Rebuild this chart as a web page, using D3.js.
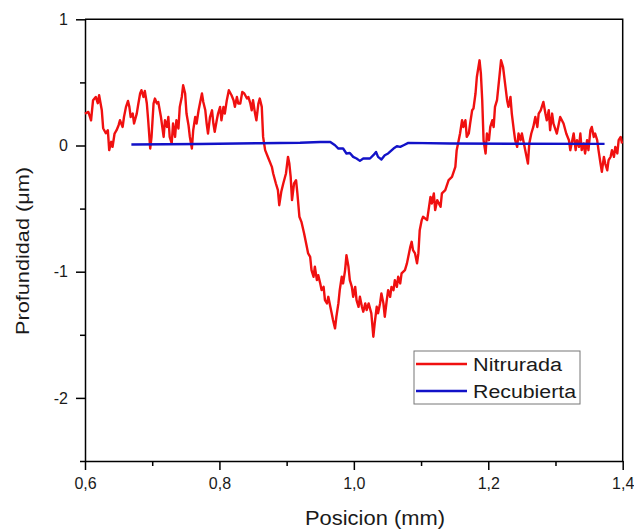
<!DOCTYPE html>
<html>
<head>
<meta charset="utf-8">
<script src="https://cdnjs.cloudflare.com/ajax/libs/d3/7.8.5/d3.min.js"></script>
<style>
  body { margin: 0; background: #fff; }
  svg { font-family: "Liberation Sans", Arial, sans-serif; }
</style>
</head>
<body>
<div id="chart"></div>
<script>
// profile data (x in mm, y in um)
var nitruradaX = [0.600,0.605,0.609,0.612,0.616,0.619,0.621,0.625,0.627,0.631,0.634,0.636,0.639,0.641,0.644,0.647,0.650,0.652,0.656,0.658,
  0.661,0.664,0.666,0.668,0.671,0.673,0.677,0.679,0.682,0.684,0.687,0.689,0.692,0.694,0.697,0.699,0.702,0.704,0.707,0.709,
  0.713,0.717,0.719,0.722,0.724,0.726,0.729,0.731,0.734,0.736,0.739,0.741,0.744,0.746,0.749,0.751,0.754,0.756,0.759,0.761,
  0.764,0.766,0.769,0.771,0.774,0.776,0.779,0.781,0.783,0.786,0.789,0.791,0.793,0.796,0.798,0.801,0.803,0.806,0.808,0.811,
  0.814,0.818,0.821,0.823,0.826,0.828,0.831,0.834,0.837,0.841,0.843,0.846,0.848,0.850,0.853,0.855,0.858,0.860,0.863,0.865,
  0.868,0.873,0.878,0.880,0.884,0.887,0.889,0.892,0.895,0.899,0.902,0.904,0.906,0.908,0.911,0.914,0.916,0.919,0.922,0.926,
  0.930,0.932,0.935,0.937,0.940,0.942,0.945,0.947,0.950,0.952,0.955,0.957,0.960,0.962,0.965,0.967,0.969,0.972,0.974,0.977,
  0.979,0.982,0.984,0.987,0.989,0.992,0.994,0.997,0.999,1.002,1.004,1.007,1.009,1.012,1.014,1.017,1.019,1.022,1.024,1.026,
  1.029,1.031,1.034,1.036,1.039,1.041,1.044,1.046,1.049,1.051,1.054,1.056,1.059,1.061,1.064,1.066,1.069,1.071,1.076,1.079,
  1.081,1.084,1.086,1.088,1.091,1.094,1.096,1.098,1.101,1.103,1.109,1.114,1.116,1.119,1.121,1.124,1.129,1.131,1.136,1.141,
  1.146,1.151,1.153,1.156,1.158,1.161,1.163,1.166,1.168,1.171,1.173,1.176,1.178,1.181,1.183,1.187,1.189,1.191,1.193,1.196,
  1.198,1.201,1.203,1.206,1.208,1.210,1.213,1.216,1.219,1.222,1.225,1.228,1.230,1.233,1.235,1.238,1.240,1.243,1.245,1.248,
  1.250,1.253,1.255,1.259,1.261,1.264,1.267,1.270,1.273,1.275,1.278,1.282,1.285,1.287,1.290,1.292,1.295,1.297,1.302,1.307,
  1.312,1.316,1.320,1.322,1.325,1.327,1.330,1.332,1.335,1.337,1.339,1.342,1.344,1.347,1.349,1.352,1.354,1.357,1.359,1.362,
  1.364,1.367,1.369,1.372,1.374,1.377,1.379,1.382,1.384,1.387,1.389,1.392,1.394,1.397,1.399];
var nitruradaY = [0.253,0.266,0.200,0.359,0.385,0.335,0.398,0.279,0.137,0.097,0.121,-0.037,0.029,-0.011,0.095,0.121,0.161,0.200,0.147,0.226,
  0.306,0.353,0.306,0.226,0.253,0.174,0.253,0.319,0.412,0.438,0.385,0.432,0.333,0.200,-0.024,0.068,0.333,0.372,0.333,0.345,
  0.226,0.068,0.200,0.147,0.226,0.068,0.016,0.174,0.068,0.200,0.135,0.306,0.385,0.477,0.412,0.253,0.161,0.068,-0.024,0.121,
  0.226,0.174,0.279,0.333,0.412,0.345,0.279,0.174,0.095,0.226,0.279,0.174,0.108,0.200,0.253,0.306,0.200,0.306,0.253,0.359,
  0.438,0.398,0.359,0.306,0.385,0.333,0.333,0.424,0.412,0.372,0.385,0.333,0.279,0.359,0.253,0.200,0.333,0.372,0.306,0.068,
  -0.037,-0.103,-0.169,-0.222,-0.301,-0.354,-0.473,-0.367,-0.301,-0.222,-0.090,-0.143,-0.249,-0.433,-0.301,-0.275,-0.380,-0.565,-0.605,-0.697,
  -0.803,-0.855,-0.882,-0.987,-1.040,-0.961,-1.067,-1.027,-1.093,-1.146,-1.120,-1.225,-1.251,-1.199,-1.278,-1.330,-1.383,-1.449,-1.357,-1.251,
  -1.146,-1.040,-1.093,-0.987,-0.869,-0.961,-1.067,-1.120,-1.199,-1.120,-1.225,-1.278,-1.199,-1.278,-1.317,-1.251,-1.304,-1.251,-1.291,-1.330,
  -1.515,-1.409,-1.278,-1.330,-1.251,-1.172,-1.251,-1.357,-1.225,-1.146,-1.199,-1.120,-1.146,-1.067,-1.120,-1.040,-1.093,-1.013,-0.987,-0.934,
  -0.882,-0.803,-0.763,-0.829,-0.855,-0.934,-0.855,-0.671,-0.591,-0.565,-0.591,-0.407,-0.459,-0.380,-0.512,-0.433,-0.486,-0.380,-0.354,-0.275,
  -0.249,-0.169,-0.037,0.042,0.095,0.200,0.147,0.200,0.068,0.095,0.174,0.279,0.293,0.412,0.543,0.675,0.570,0.359,0.042,-0.063,
  0.095,0.042,0.147,0.200,0.147,0.306,0.359,0.517,0.675,0.622,0.491,0.359,0.306,0.385,0.253,0.121,0.042,-0.011,0.095,0.042,
  0.095,0.016,-0.037,-0.143,0.016,0.095,0.147,0.226,0.147,0.253,0.279,0.345,0.253,0.200,0.279,0.121,0.253,0.174,0.095,0.226,
  0.174,0.095,0.042,-0.037,0.042,0.095,-0.037,0.042,-0.011,0.095,-0.037,0.016,-0.063,0.042,-0.037,0.121,0.147,0.068,0.095,0.042,
  -0.037,-0.143,-0.209,-0.090,-0.143,-0.196,-0.116,-0.090,-0.037,-0.090,-0.011,-0.063,0.042,0.068,0.016];

var recubiertaX = [0.669,0.771,0.860,0.920,0.950,0.965,0.972,0.977,0.984,0.989,0.994,0.999,1.004,1.009,1.014,1.024,1.029,1.033,1.036,1.041,
  1.046,1.051,1.059,1.064,1.069,1.074,1.081,1.143,1.247,1.373];
var recubiertaY = [0.008,0.012,0.018,0.022,0.028,0.028,0.002,-0.024,-0.024,-0.063,-0.059,-0.090,-0.103,-0.122,-0.103,-0.103,-0.077,-0.051,-0.090,-0.111,
  -0.077,-0.063,-0.024,-0.006,-0.011,0.002,0.021,0.016,0.014,0.013];

var seriesNames = ["Nitrurada", "Recubierta"];
var seriesColors = ["#f01010", "#1212c8"];
var xTicks = [0.6, 0.8, 1.0, 1.2, 1.4];
var xMinor = [0.7, 0.9, 1.1, 1.3];
var yTicks = [1, 0, -1, -2];
var yMinor = [0.5, -0.5, -1.5, -2.5];

var width = 634, height = 529;
var margin = {left: 85, right: 11.3, top: 19.3, bottom: 68};

var svg = d3.select("#chart").append("svg")
    .attr("width", width)
    .attr("height", height);

var xScale = d3.scaleLinear()
    .domain([0.6, 1.4])
    .range([margin.left, width - margin.right]);
var yScale = d3.scaleLinear()
    .domain([-2.5, 1])
    .range([height - margin.bottom, margin.top]);

var comma = function (d) { return d3.format(".1f")(d).replace(".", ","); };

// minor ticks first, major axes on top
svg.append("g")
    .attr("transform", "translate(0," + yScale(-2.5) + ")")
    .call(d3.axisBottom(xScale).tickValues(xMinor).tickSize(5).tickFormat(""))
    .call(g => g.select(".domain").remove());
svg.append("g")
    .attr("transform", "translate(" + xScale(0.6) + ",0)")
    .call(d3.axisLeft(yScale).tickValues(yMinor).tickSize(5).tickFormat(""))
    .call(g => g.select(".domain").remove());

svg.append("g")
    .attr("transform", "translate(0," + yScale(-2.5) + ")")
    .call(d3.axisBottom(xScale).tickValues(xTicks).tickSize(9).tickSizeOuter(0).tickPadding(8).tickFormat(comma));
svg.append("g")
    .attr("transform", "translate(" + xScale(0.6) + ",0)")
    .call(d3.axisLeft(yScale).tickValues(yTicks).tickSize(9).tickSizeOuter(0).tickPadding(8).tickFormat(d => String(d)));

svg.selectAll(".tick line").attr("stroke", "#000").attr("stroke-width", 1.5);
svg.selectAll(".domain").attr("stroke", "#000").attr("stroke-width", 1.5);
svg.selectAll(".tick text")
    .attr("fill", "#1a1a1a")
    .style("font-size", "16px")
    .style("font-family", "'Liberation Sans', Arial, sans-serif");

// frame: top and right
svg.append("path")
    .attr("d", "M" + xScale(0.6) + "," + yScale(1) + "H" + xScale(1.4) + "V" + yScale(-2.5))
    .attr("fill", "none")
    .attr("stroke", "#000")
    .attr("stroke-width", 1.5);

var line = d3.line()
    .x(d => xScale(d[0]))
    .y(d => yScale(d[1]));

svg.append("path")
    .datum(d3.zip(nitruradaX, nitruradaY))
    .attr("d", line)
    .attr("fill", "none")
    .attr("stroke", seriesColors[0])
    .attr("stroke-width", 2.4)
    .attr("stroke-linejoin", "round");

svg.append("path")
    .datum(d3.zip(recubiertaX, recubiertaY))
    .attr("d", line)
    .attr("fill", "none")
    .attr("stroke", seriesColors[1])
    .attr("stroke-width", 2.4)
    .attr("stroke-linejoin", "round");

// axis titles
svg.append("text")
    .attr("x", 305)
    .attr("y", 525)
    .attr("font-size", 21)
    .attr("textLength", 140)
    .attr("lengthAdjust", "spacingAndGlyphs")
    .attr("fill", "#1a1a1a")
    .text("Posicion (mm)");

svg.append("text")
    .attr("transform", "translate(29,335) rotate(-90)")
    .attr("font-size", 18.5)
    .attr("textLength", 168)
    .attr("lengthAdjust", "spacingAndGlyphs")
    .attr("fill", "#1a1a1a")
    .text("Profundidad (\u03bcm)");

// legend
var legendWidths = [89, 103];
var legend = svg.append("g").attr("transform", "translate(414,351)");
legend.append("rect")
    .attr("width", 166)
    .attr("height", 53)
    .attr("fill", "#fff")
    .attr("stroke", "#777")
    .attr("stroke-width", 1);
seriesNames.forEach(function (name, i) {
    var yy = 13 + i * 27;
    legend.append("line")
        .attr("x1", 2).attr("x2", 53)
        .attr("y1", yy).attr("y2", yy)
        .attr("stroke", seriesColors[i])
        .attr("stroke-width", 2.4);
    legend.append("text")
        .attr("x", 59)
        .attr("y", yy + 6.5)
        .attr("font-size", 18)
        .attr("textLength", legendWidths[i])
        .attr("lengthAdjust", "spacingAndGlyphs")
        .attr("fill", "#1a1a1a")
        .text(name);
});
</script>
</body>
</html>
